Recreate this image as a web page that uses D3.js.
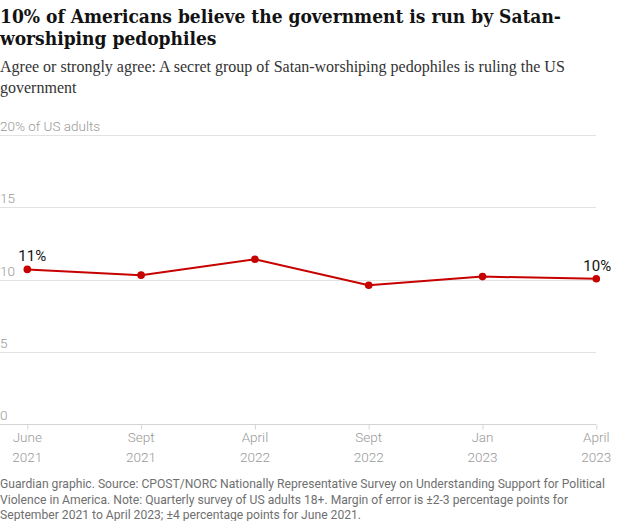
<html>
<head>
<meta charset="utf-8">
<script src="https://d3js.org/d3.v7.min.js"></script>
<style>
body { margin: 0; background: #fff; }
.title { font-family: "DejaVu Serif", serif; font-weight: bold; font-stretch: condensed; fill: #121212; }
.sub { font-family: "Liberation Serif", serif; fill: #333; }
.axis text, .ylab { font-family: Roboto, sans-serif; font-weight: 300; fill: #999; }
.foot { font-family: Roboto, sans-serif; fill: #707070; }
</style>
</head>
<body>
<script>

// survey waves
var dates = ["June 2021", "Sept 2021", "April 2022", "Sept 2022", "Jan 2023", "April 2023"];
// % agree or strongly agree
var values = [10.7, 10.3, 11.4, 9.6, 10.2, 10.05];
var yTicks = [0, 5, 10, 15, 20];
var pointLabels = ["11%", "", "", "", "", "10%"];

var titleLines = ["10% of Americans believe the government is run by Satan-",
                  "worshiping pedophiles"];
var subLines = ["Agree or strongly agree: A secret group of Satan-worshiping pedophiles is ruling the US",
                "government"];
var footLines = ["Guardian graphic. Source: CPOST/NORC Nationally Representative Survey on Understanding Support for Political",
                 "Violence in America. Note: Quarterly survey of US adults 18+. Margin of error is \u00b12-3 percentage points for",
                 "September 2021 to April 2023; \u00b14 percentage points for June 2021."];

var W = 618, H = 521;
var red = "#c70000";

var svg = d3.select("body").append("svg")
    .attr("width", W)
    .attr("height", H);

// headline + standfirst
svg.append("text").attr("class", "title").style("font-size", "19px")
  .selectAll("tspan").data(titleLines).enter().append("tspan")
    .attr("x", 0).attr("y", function(d, i) { return 23 + i * 22; })
    .text(function(d) { return d; });

svg.append("text").attr("class", "sub").style("font-size", "16px")
  .selectAll("tspan").data(subLines).enter().append("tspan")
    .attr("x", 0).attr("y", function(d, i) { return 72 + i * 21; })
    .text(function(d) { return d; });

var x = d3.scalePoint().domain(dates).range([27.3, 596.3]);
var y = d3.scaleLinear().domain([0, 20]).range([424, 135]);

// gridlines
svg.append("g").selectAll("line").data(yTicks).enter().append("line")
    .attr("x1", 0).attr("x2", 596)
    .attr("y1", function(d) { return Math.round(y(d)) + 0.5; })
    .attr("y2", function(d) { return Math.round(y(d)) + 0.5; })
    .attr("stroke", function(d) { return d == 0 ? "#d4d4d4" : "#e2e2e2"; })
    .attr("stroke-width", 1);

svg.append("g").selectAll("text").data(yTicks).enter().append("text")
    .attr("class", "ylab")
    .attr("x", 0)
    .attr("y", function(d) { return y(d) - 4; })
    .style("font-size", "13.5px")
    .text(function(d) { return d == 20 ? "20% of US adults" : d; });

// x axis, two-line labels
var xAxis = svg.append("g")
    .attr("class", "axis")
    .attr("transform", "translate(0," + (Math.round(y(0)) + 0.5) + ")")
    .call(d3.axisBottom(x).tickSize(5).tickFormat(""));
xAxis.select(".domain").remove();
xAxis.selectAll(".tick line").attr("stroke", "#d4d4d4");

var tickLab = svg.append("g").attr("class", "axis").selectAll("text")
    .data(dates).enter().append("text")
    .attr("text-anchor", "middle")
    .style("font-size", "13.5px");
tickLab.append("tspan")
    .attr("x", function(d) { return x(d); }).attr("y", 442)
    .text(function(d) { return d.split(" ")[0]; });
tickLab.append("tspan")
    .attr("x", function(d) { return x(d); }).attr("y", 462)
    .text(function(d) { return d.split(" ")[1]; });

// the line
var line = d3.line()
    .x(function(d, i) { return x(dates[i]); })
    .y(function(d) { return y(d); });

svg.append("path")
    .datum(values)
    .attr("fill", "none")
    .attr("stroke", red)
    .attr("stroke-width", 2)
    .attr("d", line);

svg.append("g").selectAll("circle").data(values).enter().append("circle")
    .attr("cx", function(d, i) { return x(dates[i]); })
    .attr("cy", function(d) { return y(d); })
    .attr("r", 3.8)
    .attr("fill", red);

svg.append("g").selectAll("text").data(values).enter().append("text")
    .attr("x", function(d, i) { return x(dates[i]) + (i == 0 ? 5 : 1); })
    .attr("y", function(d) { return y(d) - 8; })
    .attr("text-anchor", "middle")
    .style("font-family", "Roboto, sans-serif")
    .style("font-size", "15px")
    .attr("fill", "#121212")
    .text(function(d, i) { return pointLabels[i]; });

// footer - shrink the font so the longest line fits like the original
var foot = svg.append("text").attr("class", "foot").style("font-size", "13px");
foot.selectAll("tspan").data(footLines).enter().append("tspan")
    .attr("x", 0).attr("y", function(d, i) { return 488 + i * 15.5; })
    .text(function(d) { return d; });
var longest = d3.max(foot.selectAll("tspan").nodes(), function(n) { return n.getComputedTextLength(); });
foot.style("font-size", (13 * 606 / longest) + "px");

</script>
</body>
</html>
